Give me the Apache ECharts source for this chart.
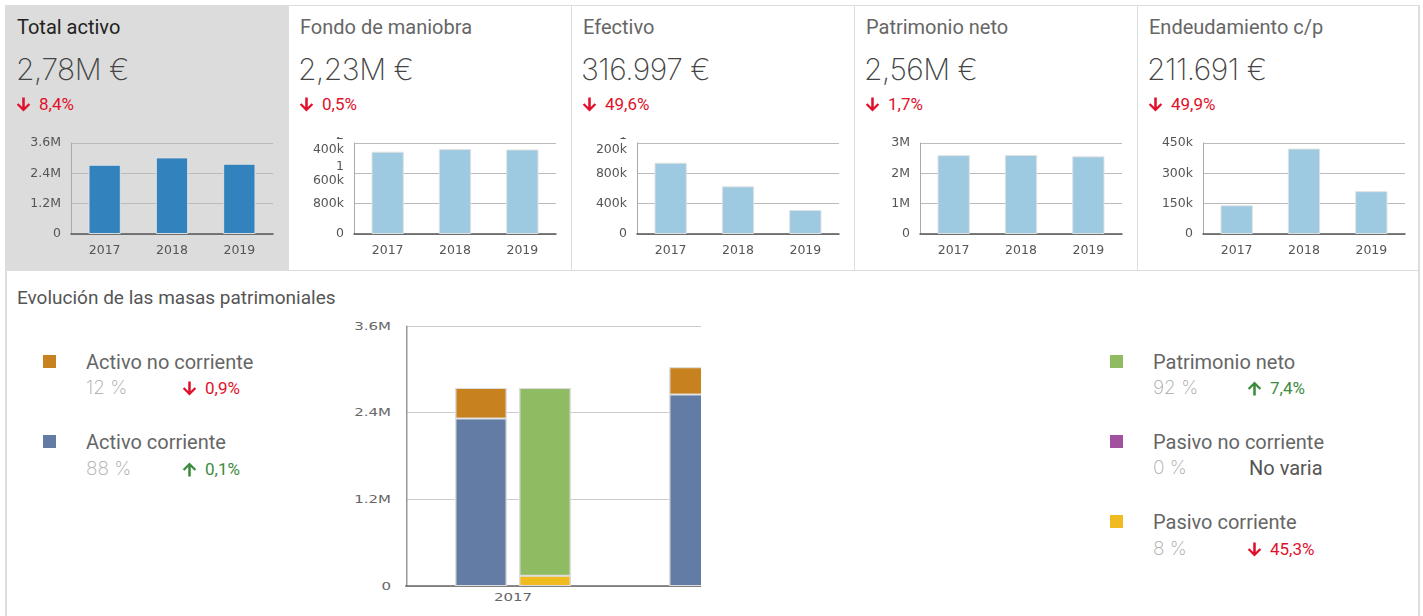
<!DOCTYPE html>
<html>
<head>
<meta charset="utf-8">
<script src="https://cdn.jsdelivr.net/npm/echarts@6/dist/echarts.min.js"></script>
<style>
  html, body { margin: 0; padding: 0; background: #fff; }
  body { width: 1423px; height: 616px; position: relative; overflow: hidden; font-family: Roboto, "Open Sans", sans-serif; }
  .abs { position: absolute; }
  .line { position: absolute; background: #dddddd; }
  .title { position: absolute; font-size: 20px; line-height: 24px; color: #666; white-space: nowrap; }
  .value { position: absolute; font-size: 30px; line-height: 38px; color: #444; font-family: Inter, Roboto, sans-serif; font-weight: 200; letter-spacing: -0.5px; white-space: nowrap; }
  .pct { position: absolute; font-size: 17px; line-height: 20px; white-space: nowrap; }
  .arrow { display: inline-block; width: 17px; height: 17px; vertical-align: -3px; margin-right: 7px; }
  .arrow svg { width: 17px; height: 17px; display: block; }
  .down { color: #e0112b; }
  .up { color: #3d8b3d; }
  .mini { position: absolute; top: 137px; width: 283px; height: 128px; }
  .leg-sq { position: absolute; width: 13px; height: 13px; }
  .leg-lab { position: absolute; font-size: 20px; line-height: 24px; color: #666; white-space: nowrap; }
  .leg-share { position: absolute; font-size: 19px; line-height: 24px; color: #aaa; font-family: Inter, Roboto, sans-serif; font-weight: 200; white-space: nowrap; }
  .leg-chg { position: absolute; font-size: 17px; line-height: 20px; white-space: nowrap; }
</style>
</head>
<body>
<!-- panel backgrounds and borders -->
<div class="abs" style="left:5px;top:5px;width:283px;height:266px;background:#dcdcdc;"></div>
<div class="line" style="left:5px;top:5px;width:1415px;height:1px;"></div>
<div class="line" style="left:288px;top:5px;width:1px;height:266px;"></div>
<div class="line" style="left:571px;top:5px;width:1px;height:266px;"></div>
<div class="line" style="left:854px;top:5px;width:1px;height:266px;"></div>
<div class="line" style="left:1137px;top:5px;width:1px;height:266px;"></div>
<div class="line" style="left:1418px;top:5px;width:2px;height:611px;"></div>
<div class="line" style="left:5px;top:270px;width:1415px;height:1px;"></div>
<div class="line" style="left:5px;top:271px;width:2px;height:345px;"></div>

<!-- KPI texts -->
<div class="title" style="left:17px;top:15px;color:#222;">Total activo</div>
<div class="value" style="left:16px;top:50px;">2,78M €</div>
<div class="pct down" style="left:15px;top:94px;"><span class="arrow dn"></span>8,4%</div>

<div class="title" style="left:300px;top:15px;">Fondo de maniobra</div>
<div class="value" style="left:298px;top:50px;">2,23M €</div>
<div class="pct down" style="left:298px;top:94px;"><span class="arrow dn"></span>0,5%</div>

<div class="title" style="left:583px;top:15px;">Efectivo</div>
<div class="value" style="left:581px;top:50px;">316.997 €</div>
<div class="pct down" style="left:581px;top:94px;"><span class="arrow dn"></span>49,6%</div>

<div class="title" style="left:866px;top:15px;">Patrimonio neto</div>
<div class="value" style="left:864px;top:50px;">2,56M €</div>
<div class="pct down" style="left:864px;top:94px;"><span class="arrow dn"></span>1,7%</div>

<div class="title" style="left:1149px;top:15px;">Endeudamiento c/p</div>
<div class="value" style="left:1147px;top:50px;">211.691 €</div>
<div class="pct down" style="left:1147px;top:94px;"><span class="arrow dn"></span>49,9%</div>

<div id="m1" class="mini" style="left:5px;"></div>
<div id="m2" class="mini" style="left:288px;"></div>
<div id="m3" class="mini" style="left:571px;"></div>
<div id="m4" class="mini" style="left:854px;"></div>
<div id="m5" class="mini" style="left:1137px;"></div>

<!-- bottom panel -->
<div class="title" style="left:17px;top:286px;color:#555;font-size:19px;">Evolución de las masas patrimoniales</div>

<div class="leg-sq" style="left:43px;top:355px;background:#c7821f;"></div>
<div class="leg-lab" style="left:86px;top:350px;">Activo no corriente</div>
<div class="leg-share" style="left:86px;top:376px;">12 %</div>
<div class="leg-chg down" style="left:181px;top:378px;"><span class="arrow dn"></span>0,9%</div>

<div class="leg-sq" style="left:43px;top:435px;background:#627ca6;"></div>
<div class="leg-lab" style="left:86px;top:430px;">Activo corriente</div>
<div class="leg-share" style="left:86px;top:457px;">88 %</div>
<div class="leg-chg up" style="left:181px;top:459px;"><span class="arrow upa"></span>0,1%</div>

<div class="leg-sq" style="left:1110px;top:355px;background:#8fbc63;"></div>
<div class="leg-lab" style="left:1153px;top:350px;">Patrimonio neto</div>
<div class="leg-share" style="left:1153px;top:376px;">92 %</div>
<div class="leg-chg up" style="left:1246px;top:378px;"><span class="arrow upa"></span>7,4%</div>

<div class="leg-sq" style="left:1110px;top:435px;background:#a2519f;"></div>
<div class="leg-lab" style="left:1153px;top:430px;">Pasivo no corriente</div>
<div class="leg-share" style="left:1153px;top:456px;">0 %</div>
<div class="leg-lab" style="left:1249px;top:456px;color:#555;">No varia</div>

<div class="leg-sq" style="left:1110px;top:515px;background:#f0bb1f;"></div>
<div class="leg-lab" style="left:1153px;top:510px;">Pasivo corriente</div>
<div class="leg-share" style="left:1153px;top:537px;">8 %</div>
<div class="leg-chg down" style="left:1246px;top:539px;"><span class="arrow dn"></span>45,3%</div>

<div class="abs" style="left:340px;top:310px;width:361px;height:306px;overflow:hidden;">
  <div id="main" style="position:absolute;left:0;top:0;width:482px;height:300px;transform:scaleX(1.5);transform-origin:0 0;"></div>
</div>

<script>
// ---- data ----
const years = ['2017', '2018', '2019'];

const totalActivo = [2740000, 3030000, 2780000];
const fondoManiobra = [2170000, 2240000, 2230000];
const efectivo = [940000, 629000, 317000];
const patrimonioNeto = [2600000, 2604000, 2560000];
const endeudamientoCP = [142000, 422500, 211700];

const totalActivoTicks = ['0', '1.2M', '2.4M', '3.6M'];
const fondoTicks = ['0', '800k', '1\n600k', '2\n400k'];
const efectivoTicks = ['0', '400k', '800k', '1\n200k'];
const patrimonioTicks = ['0', '1M', '2M', '3M'];
const endeudamientoTicks = ['0', '150k', '300k', '450k'];

// bottom chart (masas patrimoniales)
const activoNoCorriente = [420000, 380000, 333000];
const activoCorriente = [2320000, 2650000, 2443000];
const pasivoCorriente = [142000, 422500, 211700];
const pasivoNoCorriente = [0, 0, 0];
const patrimonioNetoMasas = [2600000, 2604000, 2560000];
const masasTicks = ['0', '1.2M', '2.4M', '3.6M'];

// ---- arrow icons ----
const downSvg = '<svg viewBox="0 0 24 24"><path fill="currentColor" d="M21.5 12.5l-2.3-2.3-5.4 5.4V2h-3.6v13.6L4.8 10.2 2.5 12.5 12 22z"/></svg>';
const upSvg = '<svg viewBox="0 0 24 24"><path fill="currentColor" d="M2.5 11.5l2.3 2.3 5.4-5.4V22h3.6V8.4l5.4 5.4 2.3-2.3L12 2z"/></svg>';
document.querySelectorAll('.arrow.dn').forEach(function (e) { e.innerHTML = downSvg; });
document.querySelectorAll('.arrow.upa').forEach(function (e) { e.innerHTML = upSvg; });

// ---- mini charts ----
function mini(id, values, color, max, interval, ticks) {
  const chart = echarts.init(document.getElementById(id), null, { renderer: 'canvas' });
  chart.setOption({
    animation: false,
    grid: { left: 66, right: 15, top: 6, bottom: 31, outerBoundsMode: 'none', containLabel: false },
    xAxis: {
      type: 'category',
      data: years,
      axisLine: { lineStyle: { color: '#555', width: 1.5 } },
      axisTick: { show: false },
      axisLabel: { color: '#555', fontFamily: 'DejaVu Sans', fontSize: 12.5, margin: 10 }
    },
    yAxis: {
      type: 'value', min: 0, max: max, interval: interval,
      axisLine: { show: true, lineStyle: { color: '#aaa', width: 1 } },
      axisTick: { show: false },
      splitLine: { lineStyle: { color: '#bbb', width: 1 } },
      axisLabel: {
        color: '#555', fontFamily: 'DejaVu Sans', fontSize: 12.5, margin: 10, lineHeight: 14,
        hideOverlap: false, showMaxLabel: true, showMinLabel: true,
        formatter: function (v) { return ticks[Math.round(v / interval)]; }
      }
    },
    series: [{
      type: 'bar', data: values, barWidth: '48%',
      itemStyle: { color: color, borderColor: 'rgba(225,225,225,0.95)', borderWidth: 1 }
    }]
  });
}
mini('m1', totalActivo, '#3182bd', 3600000, 1200000, totalActivoTicks);
mini('m2', fondoManiobra, '#9ecae1', 2400000, 800000, fondoTicks);
mini('m3', efectivo, '#9ecae1', 1200000, 400000, efectivoTicks);
mini('m4', patrimonioNeto, '#9ecae1', 3000000, 1000000, patrimonioTicks);
mini('m5', endeudamientoCP, '#9ecae1', 450000, 150000, endeudamientoTicks);

// ---- bottom stacked chart ----
const main = echarts.init(document.getElementById('main'), null, { renderer: 'svg' });
const border = { borderColor: '#dcdcdc', borderWidth: 1 };
main.setOption({
  animation: false,
  grid: { left: 44, right: 10, top: 16, bottom: 24, outerBoundsMode: 'none', containLabel: false },
  xAxis: {
    type: 'category', data: years,
    axisLine: { lineStyle: { color: '#666', width: 1.5 } },
    axisTick: { show: false },
    axisLabel: { color: '#666', fontFamily: 'DejaVu Sans', fontSize: 10, margin: 6 }
  },
  yAxis: {
    type: 'value', min: 0, max: 3600000, interval: 1200000,
    axisLine: { show: true, lineStyle: { color: '#999', width: 1 } },
    axisTick: { show: false },
    splitLine: { lineStyle: { color: '#ccc', width: 1 } },
    axisLabel: {
      color: '#666', fontFamily: 'DejaVu Sans', fontSize: 10, margin: 10,
      formatter: function (v) { return masasTicks[Math.round(v / 1200000)]; }
    }
  },
  series: [
    { name: 'Activo corriente', type: 'bar', stack: 'activo', data: activoCorriente, barWidth: 34.7, barGap: '23%',
      itemStyle: Object.assign({ color: '#627ca6' }, border) },
    { name: 'Activo no corriente', type: 'bar', stack: 'activo', data: activoNoCorriente, barWidth: 34.7, barGap: '23%',
      itemStyle: Object.assign({ color: '#c7821f' }, border) },
    { name: 'Pasivo corriente', type: 'bar', stack: 'pasivo', data: pasivoCorriente, barWidth: 34.7, barGap: '23%',
      itemStyle: Object.assign({ color: '#f0bb1f' }, border) },
    { name: 'Pasivo no corriente', type: 'bar', stack: 'pasivo', data: pasivoNoCorriente, barWidth: 34.7, barGap: '23%',
      itemStyle: { color: '#a2519f' } },
    { name: 'Patrimonio neto', type: 'bar', stack: 'pasivo', data: patrimonioNetoMasas, barWidth: 34.7, barGap: '23%',
      itemStyle: Object.assign({ color: '#8fbc63' }, border) }
  ]
});
</script>
</body>
</html>
